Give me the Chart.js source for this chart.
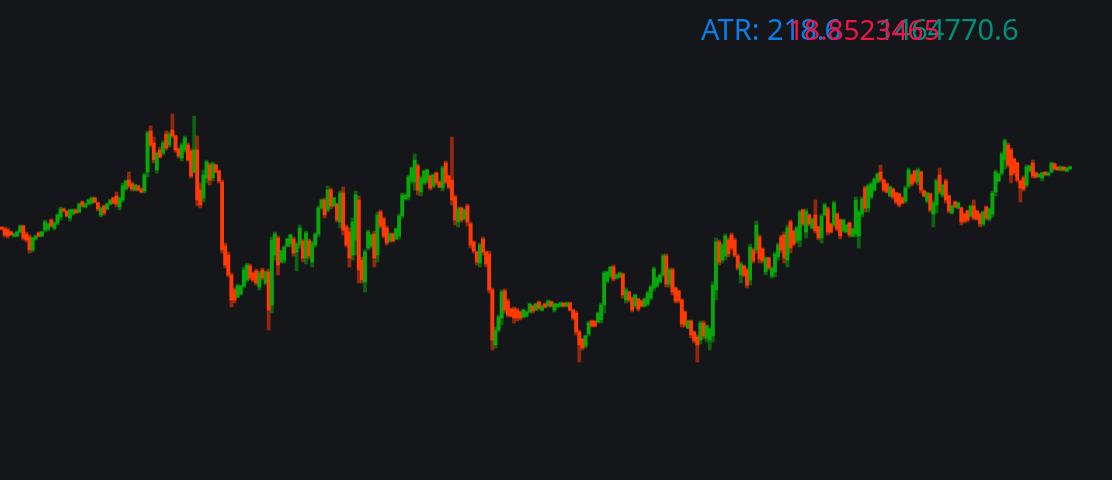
<!DOCTYPE html>
<html>
<head>
<meta charset="utf-8">
<script src="https://cdn.jsdelivr.net/npm/chart.js@4.4.1/dist/chart.umd.min.js"></script>
<style>
  html, body { margin: 0; padding: 0; background: #151619; }
  #wrap { width: 1112px; height: 480px; }
</style>
</head>
<body>
<div id="wrap"><canvas id="ohlc" width="1112" height="480"></canvas></div>
<script>
// OHLC series
var open = [
  2773,2771,2770,2768,2764,2764,2768,2774,2766,2763,2750,2761,2767,2764,2770,2771,2780,2772,2777,
  2783,2791,2789,2782,2786,2790,2788,2798,2793,2796,2797,2802,2797,2785,2794,2791,2796,2802,
  2804,2793,2800,2811,2820,2816,2810,2814,2811,2809,2828,2869,2857,2830,2850,2847,2866,2855,2870,2864,
  2851,2842,2850,2855,2849,2828,2850,2810,2802,2822,2835,2822,2835,2829,2818,2754,2745,2725,2710,2703,
  2706,2714,2720,2734,2727,2729,2713,2730,2717,2728,2695,2745,2762,2738,2740,2754,2756,2761,2748,2755,
  2759,2742,2759,2738,2755,2766,2792,2800,2790,2810,2794,2796,2778,2807,2773,2768,2745,2760,2800,2740,
  2718,2752,2754,2766,2745,2788,2781,2772,2759,2766,2761,2764,2784,2801,2803,2819,2818,2834,2808,2817,
  2819,2824,2814,2827,2818,2812,2837,2824,2820,2803,2778,2792,2781,2794,2776,2758,2748,2737,2761,2748,
  2746,2710,2655,2670,2682,2709,2699,2691,2691,2690,2688,2683,2684,2688,2694,2690,2698,2690,2696,2694,
  2698,2690,2693,2694,2697,2694,2697,2690,2687,2668,2661,2654,2666,2679,2679,2678,2680,2695,2719,2724,
  2733,2722,2723,2726,2700,2708,2702,2694,2701,2699,2694,2696,2702,2712,2714,2718,2725,2744,2716,2730,
  2712,2709,2700,2688,2672,2679,2668,2663,2660,2677,2662,2660,2664,2710,2758,2740,2744,2760,2765,2760,
  2744,2725,2734,2730,2720,2750,2750,2763,2751,2728,2742,2724,2728,2743,2763,2765,2740,2778,2769,2759,
  2760,2790,2768,2785,2772,2785,2773,2762,2785,2791,2776,2775,2786,2780,2769,2768,2777,2764,2766,2764,
  2786,2812,2792,2803,2810,2818,2828,2820,2816,2804,2811,2807,2806,2802,2799,2814,2825,2829,2818,2828,
  2809,2799,2806,2786,2795,2825,2805,2819,2804,2787,2798,2792,2792,2786,2789,2784,2794,2789,2786,2776,
  2793,2781,2786,2808,2819,2827,2840,2855,2850,2841,2837,2819,2822,2815,2829,2837,2827,2823,2822,2828,
  2825,2828,2836,2833,2830,2833,2829,2831
];
var high = [
  2773,2773,2772,2769,2767,2769,2775,2775,2768,2765,2763,2765,2768,2769,2780,2777,2781,2778,2786,
  2793,2792,2789,2791,2791,2791,2797,2799,2797,2801,2803,2803,2798,2793,2795,2797,2801,2803,
  2808,2803,2817,2820,2828,2818,2816,2815,2812,2827,2869,2874,2863,2848,2853,2859,2869,2868,2886,2865,
  2852,2857,2864,2857,2851,2884,2864,2817,2830,2840,2837,2838,2836,2830,2820,2757,2748,2727,2712,2716,
  2715,2733,2737,2736,2728,2731,2729,2732,2729,2731,2763,2768,2764,2750,2754,2762,2766,2763,2758,2775,
  2761,2769,2761,2759,2767,2794,2801,2802,2814,2812,2803,2797,2809,2813,2775,2772,2782,2809,2804,2743,
  2750,2770,2766,2769,2788,2790,2783,2774,2767,2767,2772,2786,2807,2806,2825,2833,2846,2836,2824,2830,
  2831,2825,2826,2828,2819,2834,2839,2825,2863,2805,2793,2793,2791,2796,2778,2759,2749,2757,2763,2749,
  2749,2712,2673,2685,2710,2711,2701,2692,2693,2692,2689,2691,2689,2697,2695,2697,2699,2695,2697,2700,
  2699,2697,2696,2698,2697,2698,2698,2691,2689,2670,2662,2665,2679,2680,2679,2688,2697,2729,2729,2734,
  2735,2726,2728,2727,2712,2709,2703,2706,2702,2700,2702,2709,2715,2733,2723,2726,2746,2746,2732,2732,
  2713,2710,2701,2689,2680,2680,2669,2665,2679,2679,2675,2673,2718,2762,2760,2757,2766,2762,2767,2762,
  2746,2738,2735,2732,2756,2752,2779,2765,2752,2743,2743,2733,2748,2757,2765,2768,2775,2780,2770,2774,
  2790,2791,2791,2786,2782,2800,2774,2786,2797,2793,2777,2799,2787,2781,2781,2776,2778,2772,2803,2790,
  2803,2814,2816,2818,2822,2827,2835,2821,2817,2814,2812,2808,2807,2803,2814,2832,2826,2830,2832,2829,
  2810,2808,2807,2799,2821,2832,2816,2821,2805,2795,2799,2798,2793,2787,2790,2795,2800,2790,2787,2789,
  2794,2792,2809,2830,2827,2848,2861,2857,2852,2842,2838,2820,2824,2835,2835,2840,2828,2826,2828,2828,
  2828,2838,2837,2833,2834,2833,2833,2834
];
var low = [
  2770,2763,2762,2765,2763,2763,2767,2760,2758,2747,2748,2760,2763,2763,2768,2769,2773,2770,2775,
  2780,2788,2783,2779,2785,2787,2787,2793,2792,2795,2796,2797,2789,2783,2785,2790,2795,2796,
  2793,2790,2798,2810,2812,2809,2809,2809,2807,2807,2823,2853,2837,2827,2842,2845,2850,2853,2862,2848,
  2842,2839,2848,2839,2822,2827,2794,2792,2798,2817,2815,2819,2827,2817,2747,2732,2723,2693,2697,2702,
  2705,2712,2718,2720,2718,2715,2710,2720,2715,2670,2687,2740,2725,2737,2737,2753,2753,2744,2729,2752,
  2738,2736,2741,2733,2753,2763,2791,2782,2788,2791,2793,2778,2772,2765,2753,2733,2740,2745,2717,2717,
  2708,2750,2752,2733,2738,2772,2762,2755,2758,2758,2760,2761,2782,2800,2800,2817,2810,2805,2804,2815,
  2817,2810,2812,2815,2812,2809,2816,2811,2795,2775,2773,2778,2780,2774,2752,2747,2735,2733,2745,2733,
  2707,2650,2652,2668,2675,2687,2683,2683,2677,2679,2680,2682,2683,2687,2687,2689,2690,2689,2692,2693,
  2693,2688,2693,2693,2693,2693,2689,2680,2665,2638,2650,2652,2664,2673,2673,2677,2677,2687,2717,2722,
  2719,2721,2722,2702,2697,2698,2688,2692,2689,2693,2693,2694,2700,2709,2713,2717,2723,2713,2713,2705,
  2697,2697,2673,2673,2671,2662,2657,2638,2656,2661,2658,2650,2658,2700,2735,2737,2740,2743,2750,2743,
  2730,2717,2723,2712,2715,2737,2747,2737,2737,2725,2730,2722,2723,2740,2747,2737,2733,2747,2754,2757,
  2753,2774,2762,2774,2771,2767,2760,2757,2784,2765,2767,2773,2769,2761,2768,2767,2763,2763,2763,2752,
  2783,2788,2788,2801,2809,2817,2818,2808,2807,2803,2801,2796,2793,2796,2797,2812,2814,2817,2815,2807,
  2803,2797,2788,2773,2787,2806,2803,2797,2787,2786,2792,2791,2775,2777,2778,2783,2780,2780,2773,2774,
  2780,2779,2783,2804,2818,2825,2831,2833,2817,2825,2818,2798,2809,2813,2828,2822,2822,2823,2819,2825,
  2824,2827,2830,2830,2829,2829,2828,2831
];
var close = [
  2771,2765,2764,2765,2766,2768,2774,2762,2760,2750,2762,2764,2764,2768,2778,2776,2774,2777,2785,
  2791,2789,2784,2790,2790,2787,2796,2794,2796,2800,2802,2798,2791,2792,2787,2796,2800,2797,
  2796,2802,2814,2819,2814,2811,2815,2810,2808,2825,2867,2855,2840,2847,2843,2857,2852,2866,2864,2850,
  2844,2855,2862,2840,2824,2850,2800,2795,2825,2838,2820,2836,2828,2819,2750,2735,2725,2700,2700,2714,
  2714,2730,2735,2722,2720,2717,2727,2722,2728,2690,2760,2766,2735,2749,2753,2761,2765,2747,2756,2772,
  2742,2767,2744,2757,2766,2792,2800,2785,2810,2794,2802,2780,2807,2770,2755,2742,2778,2805,2730,2720,
  2748,2768,2765,2742,2785,2774,2764,2757,2766,2759,2771,2784,2805,2805,2823,2832,2840,2810,2822,2829,
  2830,2812,2825,2817,2813,2832,2818,2813,2800,2780,2791,2780,2790,2778,2755,2749,2738,2755,2748,2736,
  2710,2660,2670,2683,2708,2690,2685,2684,2682,2682,2682,2690,2688,2696,2689,2696,2692,2694,2693,2699,
  2694,2696,2696,2697,2694,2697,2690,2682,2668,2655,2652,2664,2677,2674,2674,2687,2695,2727,2728,2733,
  2721,2725,2727,2705,2710,2700,2690,2705,2691,2694,2701,2707,2713,2731,2722,2725,2744,2716,2730,2708,
  2699,2699,2676,2675,2679,2665,2659,2655,2677,2664,2674,2671,2715,2758,2738,2755,2764,2746,2752,2745,
  2732,2736,2725,2715,2753,2739,2775,2741,2739,2742,2732,2732,2746,2755,2750,2742,2772,2752,2756,2772,
  2788,2776,2789,2776,2781,2769,2762,2784,2795,2768,2768,2797,2771,2764,2780,2775,2765,2771,2800,2788,
  2801,2792,2814,2816,2821,2826,2820,2810,2808,2813,2803,2798,2795,2797,2812,2830,2816,2819,2830,2810,
  2804,2807,2790,2797,2819,2808,2815,2800,2789,2794,2793,2797,2778,2779,2780,2794,2782,2781,2776,2788,
  2782,2791,2807,2828,2826,2846,2859,2835,2825,2827,2820,2812,2811,2833,2834,2824,2823,2826,2827,2825,
  2827,2837,2831,2830,2833,2830,2832,2833
];
// empty slots after the last bar leave the right margin
var slots = 358;
var days = [];
for (var i = 0; i < slots; i++) days.push(String(i + 1));

var upColor = "rgb(8,168,8)";
var downColor = "rgb(255,58,4)";
var upWick = "rgba(8,150,8,0.6)";
var downWick = "rgba(230,52,6,0.6)";

function isUp(i) {
  return close[i] >= open[i];
}

var legendText = {
  id: "legendText",
  afterDraw: function (chart) {
    var ctx = chart.ctx;
    ctx.save();
    ctx.textBaseline = "alphabetic";
    ctx.textAlign = "left";
    ctx.font = "29px 'Noto Sans'";
    ctx.fillStyle = "#0b7de8";
    ctx.fillText("ATR: 218.6", 701, 40);
    ctx.fillStyle = "#00907a";
    ctx.fillText("1464770.6", 878, 40);
    ctx.font = "28px 'Noto Sans'";
    ctx.fillStyle = "#f0144e";
    ctx.fillText("18.8523465", 788, 40);
    ctx.restore();
  },
};

var bgPlugin = {
  id: "bg",
  beforeDraw: function (chart) {
    var ctx = chart.ctx;
    ctx.save();
    ctx.fillStyle = "#151619";
    ctx.fillRect(0, 0, chart.width, chart.height);
    ctx.restore();
  },
};

var isohlc = document.getElementById("ohlc");
var ohlcChart = new Chart(isohlc, {
  type: "bar",
  data: {
    labels: days,
    datasets: [
      {
        label: "range",
        data: low.map(function (l, i) {
          return [l, high[i]];
        }),
        backgroundColor: function (c) {
          return isUp(c.dataIndex) ? upWick : downWick;
        },
        borderWidth: 0,
        barPercentage: 1,
        categoryPercentage: 1,
        grouped: false,
        order: 2,
      },
      {
        label: "body",
        data: open.map(function (o, i) {
          return [o, close[i]];
        }),
        backgroundColor: function (c) {
          return isUp(c.dataIndex) ? upColor : downColor;
        },
        borderWidth: 0,
        barPercentage: 1,
        categoryPercentage: 1,
        grouped: false,
        order: 1,
      },
    ],
  },
  options: {
    responsive: false,
    animation: false,
    devicePixelRatio: 1,
    layout: { padding: 0 },
    plugins: {
      legend: { display: false },
      tooltip: { enabled: false },
    },
    scales: {
      x: { display: false, offset: true, grid: { display: false } },
      y: { display: false, min: 2520, max: 3000, grid: { display: false } },
    },
  },
  plugins: [bgPlugin, legendText],
});
</script>
</body>
</html>
